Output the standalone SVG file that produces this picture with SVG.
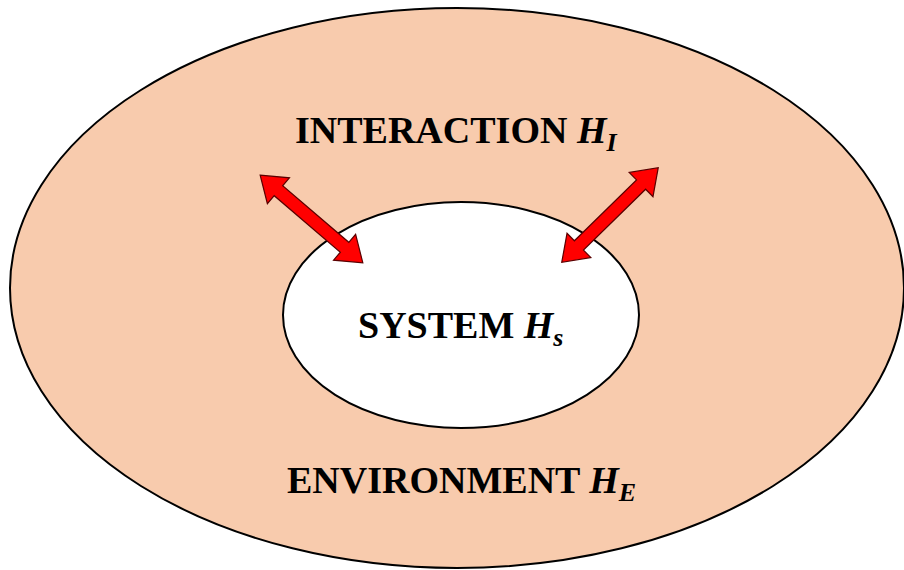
<svg xmlns="http://www.w3.org/2000/svg" width="904" height="570" viewBox="0 0 904 570">
<style>
.lbl{font-family:"Liberation Serif","DejaVu Serif",serif;font-weight:bold;fill:#000;font-size:38px}
.it{font-style:italic}
.sub{font-size:26px;font-style:italic}
.arrow{fill:#ff0000;stroke:#5a0000;stroke-width:1.2;stroke-linejoin:miter}
</style>
<defs>
<polygon id="dbl" points="-67.5,0 -43.5,-17 -43.5,-6.5 43.5,-6.5 43.5,-17 67.5,0 43.5,17 43.5,6.5 -43.5,6.5 -43.5,17"/>
</defs>
<rect width="904" height="570" fill="#ffffff"/>
<g id="environment">
<ellipse cx="457" cy="288" rx="447" ry="280" fill="#f8cbad" stroke="#000" stroke-width="2"/>
<text class="lbl" x="287" y="493">ENVIRONMENT <tspan class="it">H</tspan><tspan class="sub" dy="8">E</tspan></text>
</g>
<g id="system">
<ellipse cx="461" cy="315" rx="178" ry="113" fill="#ffffff" stroke="#000" stroke-width="2"/>
<text class="lbl" x="358" y="338">SYSTEM <tspan class="it">H</tspan><tspan class="sub" dy="8">s</tspan></text>
</g>
<g id="interaction">
<text class="lbl" x="295" y="143">INTERACTION <tspan class="it">H</tspan><tspan class="sub" dy="8">I</tspan></text>
</g>
<g id="connectors">
<use href="#dbl" class="arrow" transform="translate(311.5,219) rotate(40.5)"/>
<use href="#dbl" class="arrow" transform="translate(610,215) rotate(-44.4)"/>
</g>
</svg>
